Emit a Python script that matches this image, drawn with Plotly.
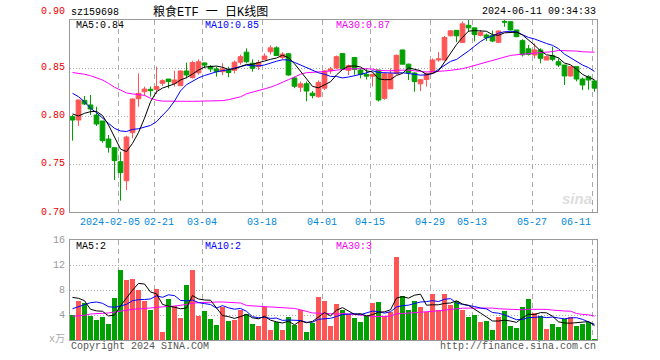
import plotly.graph_objects as go

# ---------------- data ----------------
dates = [
    "2024-01-24", "2024-01-25", "2024-01-26", "2024-01-29", "2024-01-30", "2024-01-31",
    "2024-02-01", "2024-02-02", "2024-02-05", "2024-02-06", "2024-02-07", "2024-02-08",
    "2024-02-19", "2024-02-20", "2024-02-21", "2024-02-22", "2024-02-23", "2024-02-26",
    "2024-02-27", "2024-02-28", "2024-02-29", "2024-03-01", "2024-03-04", "2024-03-05",
    "2024-03-06", "2024-03-07", "2024-03-08", "2024-03-11", "2024-03-12", "2024-03-13",
    "2024-03-14", "2024-03-15", "2024-03-18", "2024-03-19", "2024-03-20", "2024-03-21",
    "2024-03-22", "2024-03-25", "2024-03-26", "2024-03-27", "2024-03-28", "2024-03-29",
    "2024-04-01", "2024-04-02", "2024-04-03", "2024-04-08", "2024-04-09", "2024-04-10",
    "2024-04-11", "2024-04-12", "2024-04-15", "2024-04-16", "2024-04-17", "2024-04-18",
    "2024-04-19", "2024-04-22", "2024-04-23", "2024-04-24", "2024-04-25", "2024-04-26",
    "2024-04-29", "2024-04-30", "2024-05-06", "2024-05-07", "2024-05-08", "2024-05-09",
    "2024-05-10", "2024-05-13", "2024-05-14", "2024-05-15", "2024-05-16", "2024-05-17",
    "2024-05-20", "2024-05-21", "2024-05-22", "2024-05-23", "2024-05-24", "2024-05-27",
    "2024-05-28", "2024-05-29", "2024-05-30", "2024-05-31", "2024-06-03", "2024-06-04",
    "2024-06-05", "2024-06-06", "2024-06-07", "2024-06-11",
]

opens = [
    0.7993, 0.7958, 0.8163, 0.8115, 0.8010, 0.7948, 0.7760, 0.7670, 0.7524, 0.7326,
    0.7826, 0.8180, 0.8253, 0.8278, 0.8278, 0.8340, 0.8385, 0.8340, 0.8316, 0.8469,
    0.8400, 0.8450, 0.8553, 0.8517, 0.8490, 0.8462, 0.8479, 0.8476, 0.8560, 0.8665,
    0.8549, 0.8514, 0.8590, 0.8670, 0.8710, 0.8610, 0.8648, 0.8396, 0.8300, 0.8336,
    0.8238, 0.8201, 0.8290, 0.8470, 0.8500, 0.8650, 0.8476, 0.8610, 0.8479, 0.8434,
    0.8415, 0.8479, 0.8184, 0.8283, 0.8444, 0.8688, 0.8540, 0.8448, 0.8335, 0.8380,
    0.8450, 0.8583, 0.8583, 0.8835, 0.8892, 0.8765, 0.8945, 0.8918, 0.8840, 0.8844,
    0.8837, 0.8767, 0.8985, 0.8983, 0.8896, 0.8785, 0.8700, 0.8635, 0.8688, 0.8583,
    0.8628, 0.8566, 0.8531, 0.8417, 0.8514, 0.8385, 0.8410, 0.8365,
]
highs = [
    0.8010, 0.8170, 0.8208, 0.8219, 0.8097, 0.7948, 0.7802, 0.7670, 0.7628, 0.7795,
    0.8184, 0.8444, 0.8306, 0.8306, 0.8514, 0.8382, 0.8385, 0.8472, 0.8475, 0.8556,
    0.8576, 0.8590, 0.8553, 0.8531, 0.8514, 0.8550, 0.8514, 0.8578, 0.8640, 0.8705,
    0.8590, 0.8583, 0.8652, 0.8735, 0.8725, 0.8665, 0.8653, 0.8410, 0.8360, 0.8360,
    0.8260, 0.8370, 0.8480, 0.8510, 0.8630, 0.8655, 0.8535, 0.8610, 0.8497, 0.8497,
    0.8440, 0.8479, 0.8450, 0.8497, 0.8640, 0.8690, 0.8545, 0.8455, 0.8385, 0.8450,
    0.8600, 0.8667, 0.8833, 0.8895, 0.8896, 0.8985, 0.9000, 0.8918, 0.8895, 0.8860,
    0.8890, 0.8890, 0.9000, 0.8983, 0.8896, 0.8800, 0.8740, 0.8757, 0.8705, 0.8630,
    0.8722, 0.8600, 0.8531, 0.8520, 0.8514, 0.8400, 0.8425, 0.8375,
]
lows = [
    0.7743, 0.7896, 0.8115, 0.8010, 0.7896, 0.7722, 0.7618, 0.7333, 0.7118, 0.7229,
    0.7767, 0.8097, 0.8208, 0.8201, 0.8229, 0.8313, 0.8288, 0.8306, 0.8316, 0.8392,
    0.8390, 0.8430, 0.8497, 0.8458, 0.8410, 0.8425, 0.8403, 0.8444, 0.8535, 0.8550,
    0.8462, 0.8479, 0.8583, 0.8640, 0.8625, 0.8590, 0.8420, 0.8290, 0.8250, 0.8153,
    0.8184, 0.8190, 0.8270, 0.8440, 0.8490, 0.8486, 0.8427, 0.8430, 0.8392, 0.8380,
    0.8306, 0.8150, 0.8170, 0.8280, 0.8430, 0.8535, 0.8375, 0.8253, 0.8260, 0.8306,
    0.8440, 0.8566, 0.8580, 0.8830, 0.8770, 0.8760, 0.8878, 0.8778, 0.8830, 0.8781,
    0.8770, 0.8760, 0.8930, 0.8890, 0.8826, 0.8620, 0.8630, 0.8600, 0.8549, 0.8583,
    0.8570, 0.8510, 0.8323, 0.8410, 0.8360, 0.8270, 0.8274, 0.8253,
]
closes = [
    0.7958, 0.8167, 0.8125, 0.8073, 0.7917, 0.7743, 0.7674, 0.7535, 0.7410, 0.7781,
    0.8177, 0.8236, 0.8281, 0.8264, 0.8306, 0.8368, 0.8358, 0.8375, 0.8469, 0.8427,
    0.8556, 0.8565, 0.8530, 0.8490, 0.8462, 0.8490, 0.8453, 0.8560, 0.8618, 0.8565,
    0.8497, 0.8556, 0.8625, 0.8710, 0.8630, 0.8645, 0.8427, 0.8310, 0.8335, 0.8260,
    0.8212, 0.8350, 0.8470, 0.8490, 0.8618, 0.8492, 0.8523, 0.8485, 0.8435, 0.8415,
    0.8434, 0.8167, 0.8440, 0.8440, 0.8632, 0.8540, 0.8453, 0.8358, 0.8378, 0.8440,
    0.8583, 0.8595, 0.8818, 0.8887, 0.8835, 0.8960, 0.8918, 0.8848, 0.8872, 0.8816,
    0.8781, 0.8885, 0.8978, 0.8896, 0.8826, 0.8638, 0.8642, 0.8688, 0.8601, 0.8618,
    0.8590, 0.8531, 0.8417, 0.8514, 0.8385, 0.8323, 0.8375, 0.8290,
]
# volume, in 万
volumes = [
    4.00, 6.29, 5.97, 3.84, 3.20, 3.68, 2.56, 6.72, 11.20, 9.60,
    9.76, 8.00, 6.24, 4.80, 8.16, 1.28, 6.56, 5.44, 3.52, 8.80,
    11.20, 3.84, 4.64, 3.36, 2.40, 5.28, 3.04, 3.20, 4.80, 4.16,
    2.56, 2.24, 5.28, 1.60, 2.88, 1.60, 3.68, 2.40, 4.80, 1.28,
    2.72, 6.88, 6.24, 2.24, 5.76, 4.80, 4.16, 3.52, 2.88, 3.84,
    5.92, 6.08, 3.84, 4.48, 13.28, 7.04, 4.80, 6.24, 5.28, 4.48,
    7.36, 4.80, 7.36, 5.60, 6.24, 4.80, 3.68, 4.00, 2.88, 3.04,
    1.60, 3.68, 4.64, 2.24, 1.92, 5.28, 6.56, 4.32, 3.84, 1.76,
    2.56, 2.08, 3.36, 3.68, 2.24, 2.56, 2.88, 0.16,
]

# moving-average values at the left edge (their windows begin before the visible data),
# read from the picture
ma5_head = [0.8021, 0.8000, 0.8028, 0.8045]
ma10_head = [0.8236, 0.8201, 0.8149, 0.8080, 0.8035, 0.7976, 0.7924, 0.7872, 0.7844]
ma30_head = [0.8453, 0.8445, 0.8435, 0.8420, 0.8400, 0.8375, 0.8340, 0.8300, 0.8270, 0.8240,
             0.8230, 0.8225, 0.8215, 0.8185, 0.8165, 0.8155, 0.8153, 0.8153, 0.8153, 0.8153,
             0.8153, 0.8153, 0.8156, 0.8156, 0.8156, 0.8160, 0.8170, 0.8184, 0.8200]
vma5_head = [6.82, 6.67, 6.29, 4.91]
vma10_head = [5.01, 5.33, 5.65, 5.97, 6.08, 5.87, 5.33, 5.23, 5.44]
vma30_head = [3.79, 3.84, 3.95, 4.16, 4.27, 4.27, 4.32, 4.48, 4.69, 4.80,
              4.91, 4.96, 5.01, 5.12, 5.23, 5.28, 5.33, 5.44, 5.55, 5.76,
              5.87, 5.97, 6.03, 6.08, 6.08, 6.08, 6.03, 5.97, 5.92]

tick_dates = ["2024-02-05", "2024-02-21", "2024-03-04", "2024-03-18", "2024-04-01",
              "2024-04-15", "2024-04-29", "2024-05-13", "2024-05-27", "2024-06-11"]
tick_labels = ["2024-02-05", "02-21", "03-04", "03-18", "04-01",
               "04-15", "04-29", "05-13", "05-27", "06-11"]
price_ticks = [0.70, 0.75, 0.80, 0.85, 0.90]
price_tick_labels = ["0.70", "0.75", "0.80", "0.85", "0.90"]
vol_ticks = [4, 8, 12, 16]

code_text = "sz159698"
title_text = "粮食ETF 一 日K线图"
stamp_text = "2024-06-11 09:34:33"
ma_price_labels = ["MA5:0.84", "MA10:0.85", "MA30:0.87"]
ma_vol_labels = ["MA5:2", "MA10:2", "MA30:3"]

# ---------------- helpers ----------------
def moving(values, n, head):
    out = list(head)
    for i in range(len(head), len(values)):
        out.append(sum(values[i - n + 1:i + 1]) / n)
    return out

ma5 = moving(closes, 5, ma5_head)
ma10 = moving(closes, 10, ma10_head)
ma30 = moving(closes, 30, ma30_head)
vma5 = moving(volumes, 5, vma5_head)
vma10 = moving(volumes, 10, vma10_head)
vma30 = moving(volumes, 30, vma30_head)

RED = "#ff5555"
GREEN = "#00a000"
BLUE = "#0000ff"
MAG = "#ff00ff"
W, H = 660, 360
X0, X1 = 70, 597          # plot area, pixels
MY0, MY1 = 20, 212        # main panel top / bottom
VY0, VY1 = 240, 340       # volume panel top / bottom
STEP = 6.0                # pixels per trading day
FIRST = 72.5              # centre of first candle

def px(x):
    return x / W

def py(y):
    return 1 - y / H

xs = list(range(len(dates)))
xr = [(X0 - FIRST) / STEP, (X1 - FIRST) / STEP]
grid_x = [dates.index(d) - 2.2 / STEP for d in tick_dates]
bar_colors = [RED if c >= o else GREEN for o, c in zip(opens, closes)]

fig = go.Figure()
fig.add_trace(go.Candlestick(
    x=xs, open=opens, high=highs, low=lows, close=closes,
    increasing=dict(line=dict(color=RED, width=1), fillcolor=RED),
    decreasing=dict(line=dict(color=GREEN, width=1), fillcolor=GREEN),
    whiskerwidth=0, xaxis="x", yaxis="y", hoverinfo="skip", showlegend=False,
))
for vals, col in [(ma30, MAG), (ma10, BLUE), (ma5, "#000000")]:
    fig.add_trace(go.Scatter(x=xs, y=vals, mode="lines", line=dict(color=col, width=1),
                             xaxis="x", yaxis="y", hoverinfo="skip", showlegend=False))

fig.add_trace(go.Bar(x=xs, y=volumes, marker=dict(color=bar_colors, line=dict(width=0)),
                     width=0.82, xaxis="x2", yaxis="y2", hoverinfo="skip", showlegend=False))
for vals, col in [(vma30, MAG), (vma10, BLUE), (vma5, "#000000")]:
    fig.add_trace(go.Scatter(x=xs, y=vals, mode="lines", line=dict(color=col, width=1),
                             xaxis="x2", yaxis="y2", hoverinfo="skip", showlegend=False))

axis_common = dict(showline=True, mirror=True, linecolor="#999999", linewidth=1,
                   zeroline=False, ticks="", showticklabels=False)
fig.update_layout(
    width=W, height=H,
    margin=dict(l=0, r=0, t=0, b=0),
    paper_bgcolor="white", plot_bgcolor="white",
    boxgap=0.22, boxgroupgap=0,
    bargap=0,
    font=dict(family="Liberation Mono, DejaVu Sans Mono, monospace", size=10),
    xaxis=dict(domain=[px(X0), px(X1)], range=xr, tickvals=grid_x,
               showgrid=True, gridcolor="#aaaaaa", griddash="5px,4px", gridwidth=1,
               rangeslider=dict(visible=False), anchor="y", **axis_common),
    yaxis=dict(domain=[py(MY1), py(MY0)], range=[0.70, 0.90], tickvals=price_ticks[1:-1],
               showgrid=True, gridcolor="#aaaaaa", griddash="1px,2px", gridwidth=1,
               anchor="x", **axis_common),
    xaxis2=dict(domain=[px(X0), px(X1)], range=xr, tickvals=grid_x,
                showgrid=True, gridcolor="#aaaaaa", griddash="5px,4px", gridwidth=1,
                anchor="y2", **axis_common),
    yaxis2=dict(domain=[py(VY1), py(VY0)], range=[0, 16], tickvals=vol_ticks[:-1],
                showgrid=True, gridcolor="#aaaaaa", griddash="1px,2px", gridwidth=1,
                anchor="x2", **axis_common),
)

anns = []

def ann(text, x, y, anchor="left", color="#000000", size=10, family=None, **kw):
    f = dict(color=color, size=size)
    if family:
        f["family"] = family
    d = dict(text=text, x=px(x), y=py(y), xref="paper", yref="paper",
             xanchor=anchor, yanchor="middle", showarrow=False, font=f, borderpad=0)
    d.update(kw)
    anns.append(d)

# header
ann(code_text, X0, 12.5)
ann(title_text, 210, 12, anchor="center", size=12,
    family="Liberation Mono, Noto Sans CJK SC, sans-serif")
ann(stamp_text, X1, 12, anchor="right")

# price axis labels (red)
for v, t in zip(price_ticks, price_tick_labels):
    yy = MY1 - (v - 0.70) / 0.20 * (MY1 - MY0)
    if v >= 0.899:
        yy -= 8
    ann(t, 66, yy, anchor="right", color="#ee0000", size=10)

# date labels (first two nudged apart so they do not collide; last kept inside the box)
last = len(tick_dates) - 1
for k, (d, t) in enumerate(zip(tick_dates, tick_labels)):
    xx = FIRST + STEP * dates.index(d) - 2.2
    if k == 0:
        ann(t, 140.5, 222, anchor="right", color="#0088dd")
    elif k == 1:
        ann(t, 142.5, 222, anchor="left", color="#0088dd")
    elif k == last:
        ann(t, xx, 222, anchor="right", color="#0088dd")
    else:
        ann(t, xx, 222, anchor="center", color="#0088dd")

# MA labels
for t, xx, col in zip(ma_price_labels, [75, 204, 335], ["#000000", BLUE, "#ee00ee"]):
    ann(t, xx, 26, color=col)
for t, xx, col in zip(ma_vol_labels, [75, 204, 335], ["#000000", BLUE, "#ee00ee"]):
    ann(t, xx, 246.5, color=col)

# volume axis labels (grey)
for v in vol_ticks:
    yy = VY1 - v / 16 * (VY1 - VY0)
    ann(str(v), 66, yy, anchor="right", color="#999999", size=10)
ann("x万", 66, 339.5, anchor="right", color="#aaaaaa", size=10,
    family="Liberation Mono, Noto Sans CJK SC, sans-serif")

# footer
ann("Copyright 2024 SINA.COM", X0, 346, color="#555555")
ann("http://finance.sina.com.cn", X1, 346, anchor="right", color="#555555")

# watermark
ann("<b><i>sina</i></b>", 593, 198, anchor="right", color="#dddddd", size=15,
    family="Liberation Sans, Arial, sans-serif")

fig.update_layout(annotations=anns)
fig.write_html("out.html", config={"displayModeBar": False},
               post_script="document.body.style.margin='0';document.body.style.overflow='hidden';")
